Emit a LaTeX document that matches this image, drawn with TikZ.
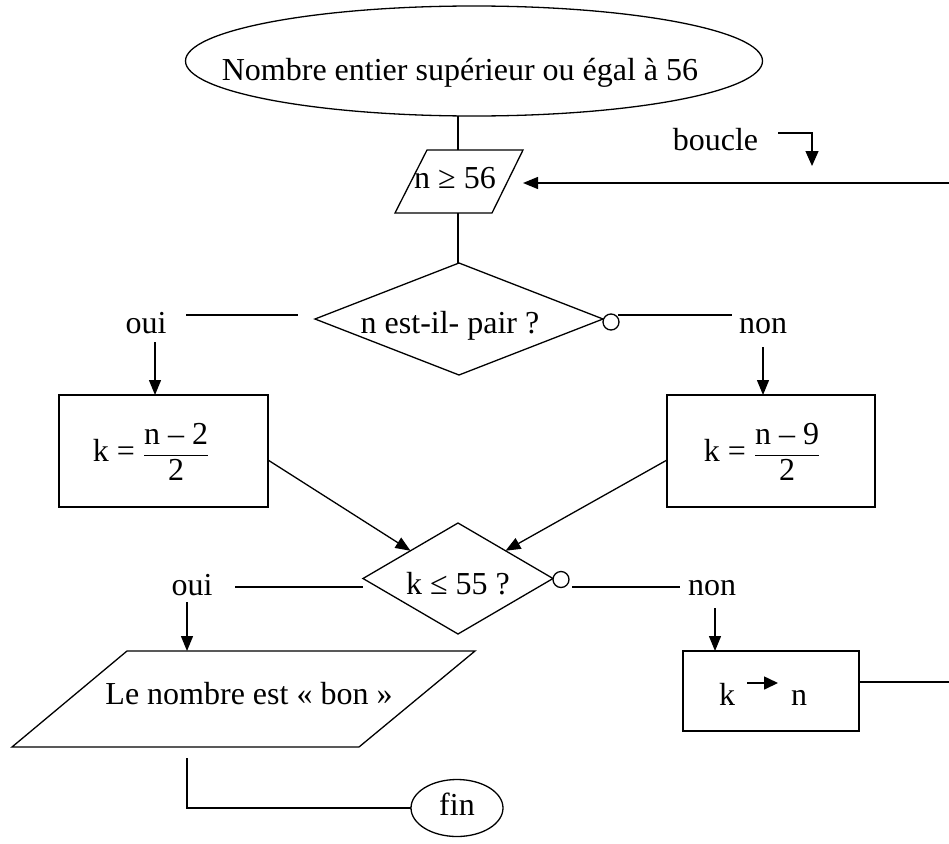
\documentclass[tikz,border=0pt]{standalone}
\usepackage{fontspec}
\setmainfont{Liberation Serif}
\usepackage{amsmath}
\usetikzlibrary{shapes.geometric,arrows.meta,calc}
\begin{document}
\begin{tikzpicture}[x=1pt,y=-1pt,
  every node/.style={font=\fontsize{32}{38}\selectfont, inner sep=0pt, outer sep=0pt},
  line/.style={line width=1.3pt},
  flow/.style={line width=1.3pt, -{Triangle[length=15pt,width=12pt]}},
  shapebox/.style={draw, line width=1.3pt},
]
\useasboundingbox (0,0) rectangle (949,843);

% start terminal
\node[shapebox, ellipse, minimum width=577pt, minimum height=110pt] (start) at (474,61) {};
\node[anchor=base] (starttext) at (460,80) {Nombre entier supérieur ou égal à 56};

% input parallelogram
\coordinate (inTL) at (427,150);
\coordinate (inTR) at (523,150);
\coordinate (inBR) at (492,213);
\coordinate (inBL) at (395,213);
\draw[shapebox, line join=miter] (inTL) -- (inTR) -- (inBR) -- (inBL) -- cycle;
\coordinate (inN) at (458,150);
\coordinate (inS) at (458,213);
\node[anchor=base] (inputtext) at (455,188) {n ≥ 56};
\draw[line] (inN) -- (inN |- start.south);

% loop back arrow
\coordinate (loopin) at (949,183);
\coordinate (looptip) at (523,183);
\draw[flow] (loopin) -- (looptip);
\node[anchor=base] (boucle) at (715.5,150) {boucle};
\coordinate (bentA) at (778,133);
\coordinate (bentB) at (812,133);
\coordinate (bentC) at (812,166);
\draw[line width=1.3pt, -{Triangle[length=15pt,width=13pt]}] (bentA) -- (bentB) -- (bentC);

% first decision
\node[shapebox, diamond, minimum width=288pt, minimum height=112pt] (d1) at (459,319) {};
\node[anchor=base] (d1text) at (450,333) {n est-il- pair ?};
\node[shapebox, circle, minimum size=16pt, anchor=west, fill=white] (o1) at ([yshift=-3pt]d1.east) {};
\draw[line] (inS) -- (inS |- d1.north);

\coordinate (ouiA) at (186,315);
\coordinate (ouiB) at (298,315);
\draw[line] (ouiA) -- (ouiB);
\node[anchor=base] (oui1) at (146,333) {oui};
\coordinate (nonA) at (618,315);
\coordinate (nonB) at (732,315);
\draw[line] (nonA) -- (nonB);
\node[anchor=base] (non1) at (763,333) {non};

% computation boxes
\node[shapebox, rectangle, minimum width=209pt, minimum height=112pt] (bpair) at (163.5,451) {};
\node (bpairtext) at (151,452) {k = $\dfrac{\text{n – 2}}{\text{2}}$};
\node[shapebox, rectangle, minimum width=208pt, minimum height=112pt] (bimpair) at (771,451) {};
\node (bimpairtext) at (762,452) {k = $\dfrac{\text{n – 9}}{\text{2}}$};

\coordinate (ouiC) at (155,342);
\draw[flow] (ouiC) -- (ouiC |- bpair.north);
\coordinate (nonC) at (763,347);
\draw[flow] (nonC) -- (nonC |- bimpair.north);

% second decision
\node[shapebox, diamond, minimum width=190pt, minimum height=111pt] (d2) at (458,578.5) {};
\node[anchor=base] (d2text) at (458,594) {k ≤ 55 ?};
\node[shapebox, circle, minimum size=16pt, anchor=west, fill=white] (o2) at ([yshift=-1pt]d2.east) {};

\draw[flow] ([yshift=-9pt]bpair.east) -- ($(d2.west)!0.5!(d2.north)$);
\draw[flow] ([yshift=-9pt]bimpair.west) -- ($(d2.east)!0.5!(d2.north)$);

\coordinate (oui2A) at (235,587);
\coordinate (oui2B) at (363,587);
\draw[line] (oui2A) -- (oui2B);
\node[anchor=base] (oui2) at (192,595) {oui};
\coordinate (non2A) at (572,587);
\coordinate (non2B) at (680,587);
\draw[line] (non2A) -- (non2B);
\node[anchor=base] (non2) at (712,595) {non};

% output parallelogram
\coordinate (outTL) at (127,651);
\coordinate (outTR) at (475,651);
\coordinate (outBR) at (359,747);
\coordinate (outBL) at (12,747);
\draw[shapebox, line join=miter] (outTL) -- (outTR) -- (outBR) -- (outBL) -- cycle;
\node[anchor=base] (resulttext) at (249,704) {Le nombre est « bon »};

% reassignment box
\node[shapebox, rectangle, minimum width=176pt, minimum height=80pt] (assign) at (771,691) {};
\node[anchor=base west] (kletter) at (719,705) {k};
\node[anchor=base west] (nletter) at (791,705) {n};
\coordinate (arrA) at (747,683);
\coordinate (arrB) at (778,683);
\draw[line width=1.6pt, -{Triangle[length=14pt,width=13pt]}] (arrA) -- (arrB);

\coordinate (oui2C) at (187,602);
\draw[flow] (oui2C) -- (oui2C |- outTL);
\coordinate (non2C) at (715,608);
\draw[flow] (non2C) -- (non2C |- assign.north);

\coordinate (loopout) at (949,682);
\draw[line] ([yshift=9pt]assign.east) -- (loopout);

% end terminal
\node[shapebox, ellipse, minimum width=92pt, minimum height=57pt] (fin) at (457,808) {};
\node[anchor=base] (fintext) at (457,815) {fin};
\coordinate (resultout) at (187,758);
\draw[line] (resultout) -- (resultout |- fin.west) -- (fin.west);
\end{tikzpicture}
\end{document}
